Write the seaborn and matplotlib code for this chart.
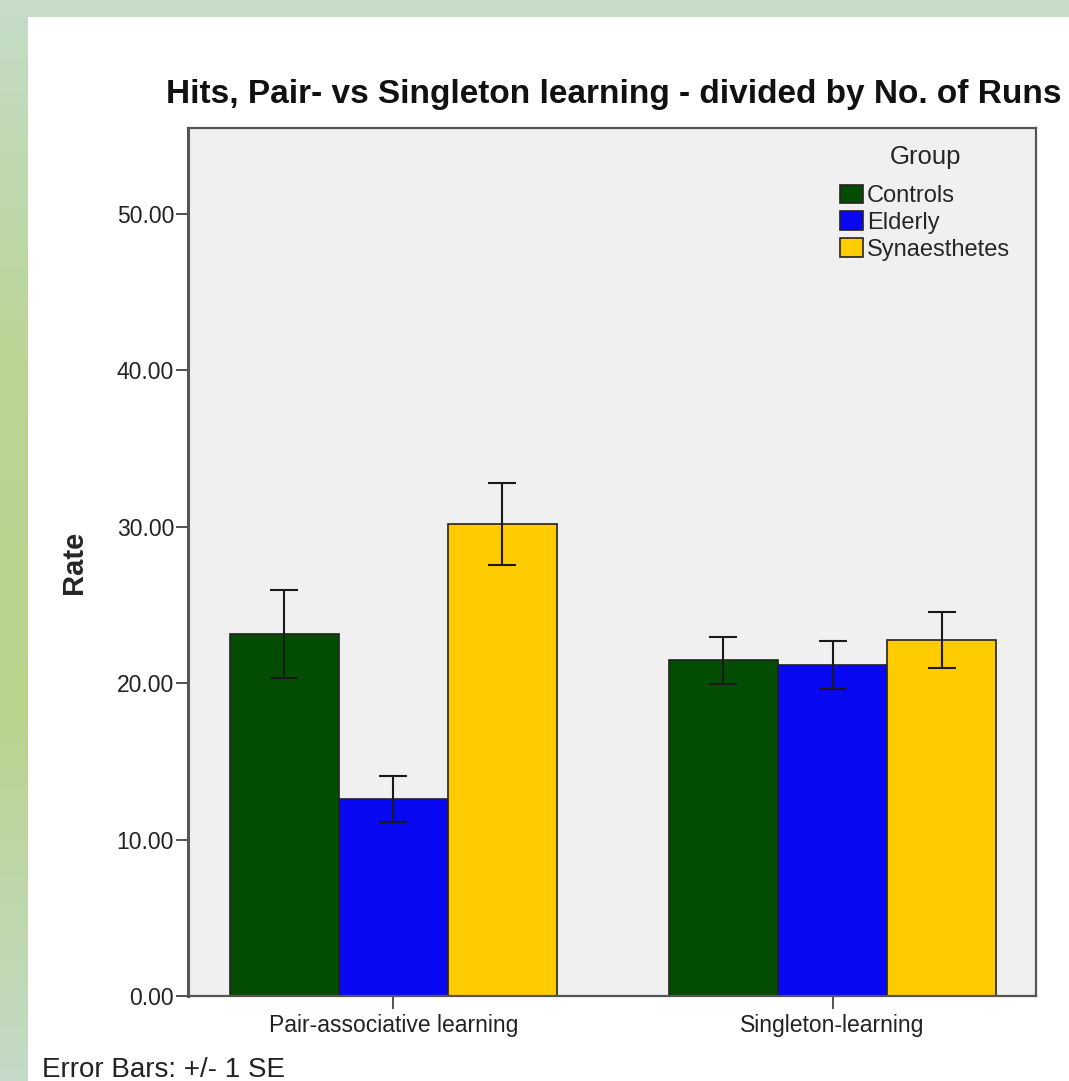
import numpy as np
import pandas as pd
import matplotlib
matplotlib.use("Agg")
import matplotlib.pyplot as plt
from matplotlib.colors import LinearSegmentedColormap
from matplotlib.patches import Rectangle
import seaborn as sns

# Mean hit rate per learning condition and group, with standard errors
conditions = ["Pair-associative learning", "Singleton-learning"]
groups = ["Controls", "Elderly", "Synaesthetes"]
means_controls = [23.15, 21.48]
means_elderly = [12.60, 21.16]
means_synaesthetes = [30.18, 22.76]
se_controls = [2.82, 1.50]
se_elderly = [1.45, 1.55]
se_synaesthetes = [2.65, 1.80]
yticks = [0, 10, 20, 30, 40, 50]

palette = {"Controls": "#024D02", "Elderly": "#0808F2", "Synaesthetes": "#FFCC00"}

df = pd.DataFrame({
    "Condition": conditions * 3,
    "Group": [g for g in groups for _ in conditions],
    "Rate": means_controls + means_elderly + means_synaesthetes,
    "SE": se_controls + se_elderly + se_synaesthetes,
})

sns.set_theme(style="white")
plt.rcParams["font.family"] = ["Liberation Sans", "DejaVu Sans"]

W, H = 1069, 1081
fig = plt.figure(figsize=(W / 100, H / 100), dpi=100)

# Slide-style backdrop: green gradient frame with a white panel
bg = fig.add_axes([0, 0, 1, 1], zorder=-10)
cmap = LinearSegmentedColormap.from_list(
    "frame", ["#C6DCC9", "#BAD595", "#B9D48F", "#C5DAC8"])
grad = np.linspace(0, 1, 256).reshape(-1, 1)
bg.imshow(grad, aspect="auto", cmap=cmap, extent=[0, 1, 0, 1], origin="upper")
bg.add_patch(Rectangle((0, 1 - 17 / H), 1, 17 / H,
                       facecolor="#C6DCC9", edgecolor="none"))
bg.add_patch(Rectangle((28 / W, 0), 1 - 28 / W, 1 - 17 / H,
                       facecolor="white", edgecolor="none"))
bg.set_xlim(0, 1)
bg.set_ylim(0, 1)
bg.axis("off")

ax = fig.add_axes([188 / W, 1 - 996 / H, (1036 - 188) / W, (996 - 128) / H])
ax.set_facecolor("#F0F0F0")

sns.barplot(data=df, x="Condition", y="Rate", hue="Group", order=conditions,
            hue_order=groups, palette=palette, errorbar=None, width=0.745,
            edgecolor="#222222", linewidth=1.2, saturation=1, ax=ax)

# Error bars of +/- 1 SE at each bar's centre
for grp, cont in zip(groups, ax.containers):
    sub = df[df["Group"] == grp].set_index("Condition").loc[conditions]
    xs = [b.get_x() + b.get_width() / 2 for b in cont]
    ax.errorbar(xs, sub["Rate"].values, yerr=sub["SE"].values, fmt="none",
                ecolor="#1A1A1A", elinewidth=1.5, capsize=10, capthick=1.5,
                zorder=5)

ax.set_ylim(0, 55.5)
ax.set_xlim(-0.467, 1.463)
ax.set_yticks(yticks)
ax.set_yticklabels([f"{v:.2f}" for v in yticks])
ax.tick_params(axis="y", direction="out", length=9, width=1.2, color="#333333",
               labelsize=16.5, labelcolor="#222222", pad=1, left=True)
ax.tick_params(axis="x", direction="out", length=9, width=1.2, color="#333333",
               labelsize=16.5, labelcolor="#222222", pad=4, bottom=True)
for side, sp in ax.spines.items():
    sp.set_visible(True)
    sp.set_color("#555555")
    sp.set_linewidth(2.2 if side == "left" else 1.6)

ax.set_xlabel("")
ax.set_ylabel("Rate", fontsize=21, fontweight="bold", labelpad=21)

sns.move_legend(ax, "upper left", bbox_to_anchor=(0.769, 0.980), frameon=False,
                title="Group", fontsize=17, title_fontsize=18.5,
                handlelength=0.96, handleheight=0.85, handletextpad=0.17,
                labelspacing=0.18, borderaxespad=0, borderpad=0)
# extra room between the legend title and its entries
ax.get_legend()._legend_box.sep = 11

fig.text(166 / W, 1 - 103 / H, "Hits, Pair- vs Singleton learning - divided by No. of Runs",
         fontsize=24, fontweight="bold", ha="left", va="baseline", color="#111111")
fig.text(42 / W, 1 - 1077 / H, "Error Bars: +/- 1 SE", fontsize=20,
         ha="left", va="baseline", color="#222222")

fig.savefig("out.png", dpi=100)
